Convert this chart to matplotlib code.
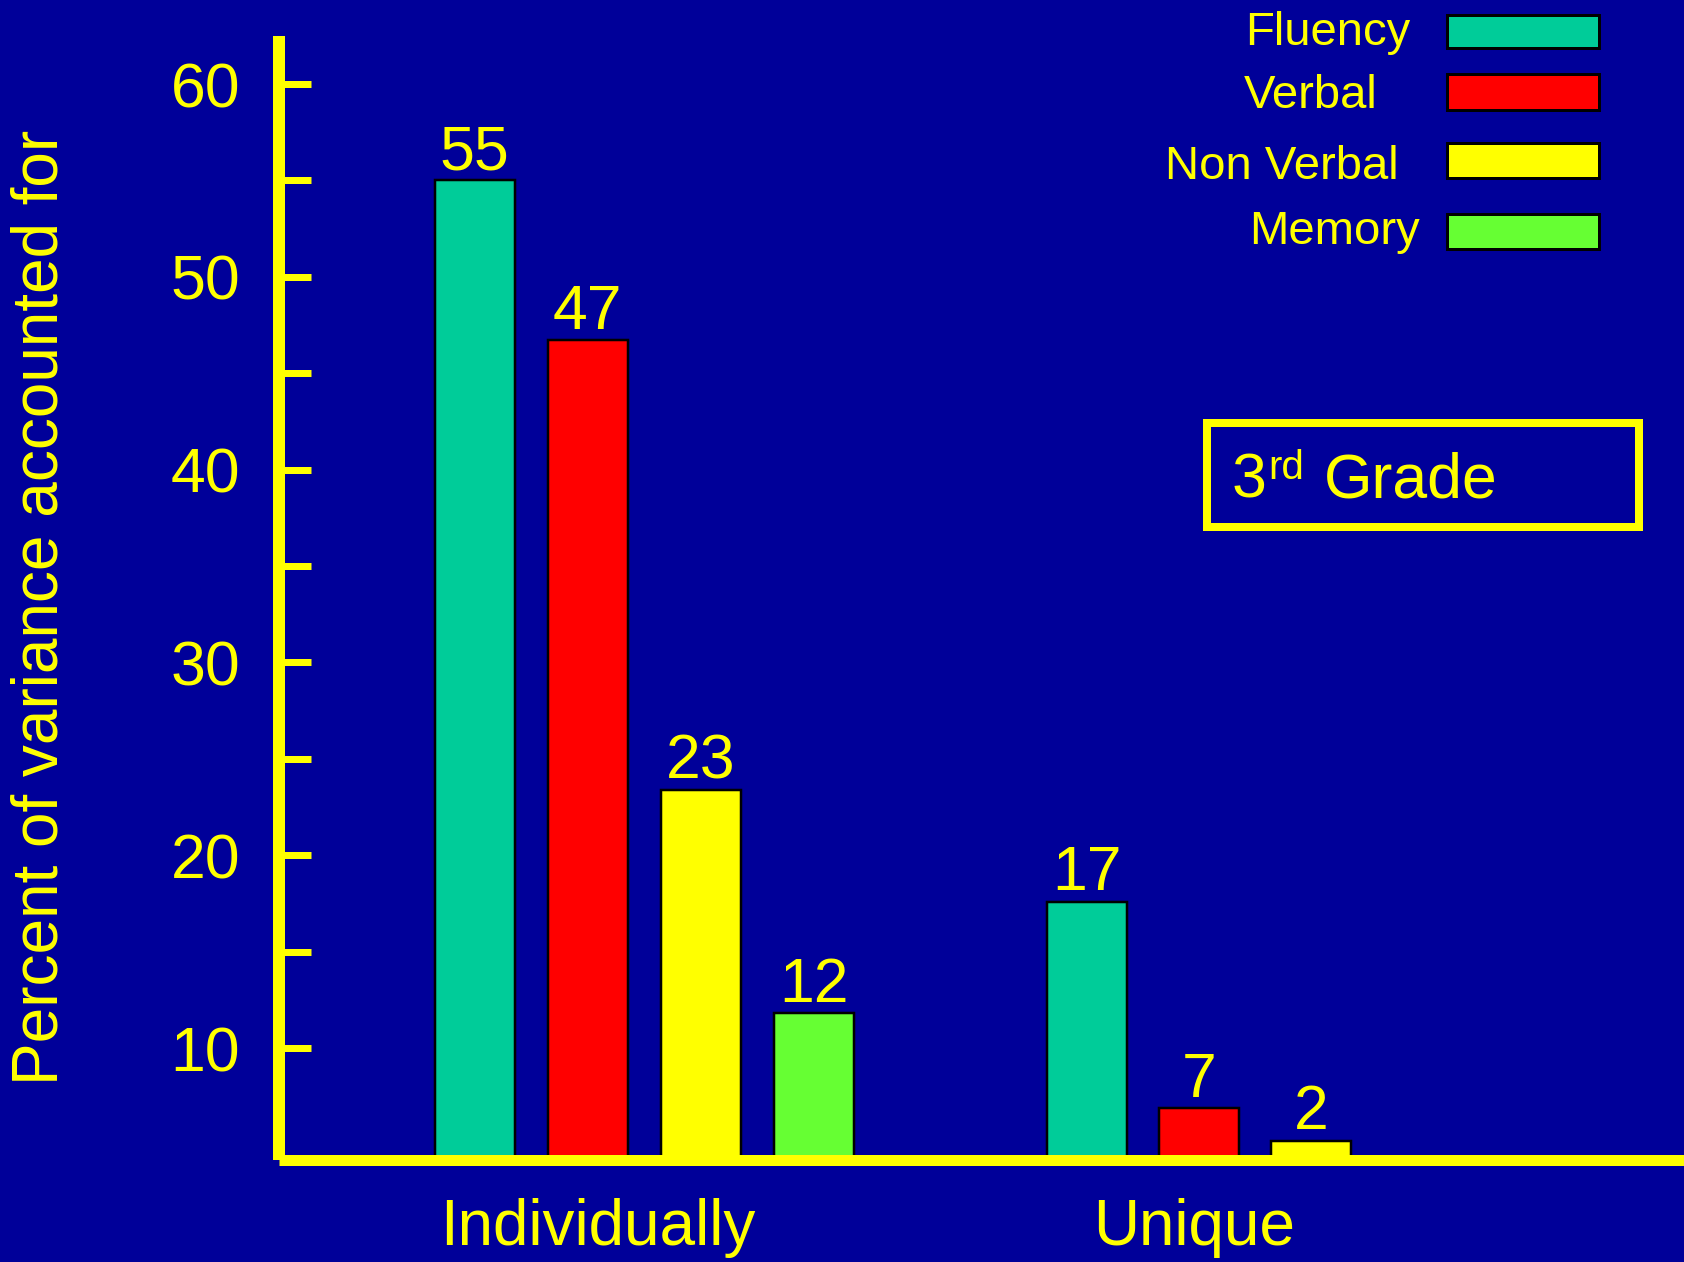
import matplotlib
matplotlib.use("Agg")
import matplotlib.pyplot as plt
from matplotlib.patches import Rectangle

plt.rcParams['font.family'] = ['Liberation Sans', 'DejaVu Sans']

# ---- data ----
categories = ["Individually", "Unique"]
series = ["Fluency", "Verbal", "Non Verbal", "Memory"]
colors = ["#00CC99", "#FF0000", "#FFFF00", "#66FF33"]
individually_tops = [55.0, 46.7, 23.4, 11.8]
unique_tops = [17.6, 6.9, 5.2]
individually_labels = [55, 47, 23, 12]
unique_labels = [17, 7, 2]
y_major = [10, 20, 30, 40, 50, 60]
y_minor = [15, 25, 35, 45, 55]
ylabel = "Percent of variance accounted for"

W, H = 1684, 1262
BG = "#000099"
YEL = "#FFFF00"
PX = 72 / 100  # points per pixel

fig = plt.figure(figsize=(W / 100, H / 100), dpi=100, facecolor=BG)

def fx(px):
    return px / W

def fy(py):
    return 1 - py / H

ax_left, ax_bottom_px, ax_top_px = 279, 1159.5, 36
ax = fig.add_axes([fx(ax_left), fy(ax_bottom_px), 1 - fx(ax_left),
                   (ax_bottom_px - ax_top_px) / H])
ax.set_facecolor(BG)
ax.set_xlim(ax_left, W)
ax.set_ylim(4.22, 62.49)

base = 4.35
group_starts = [474.5, 1087]
spacing = [113, 112]
bar_w = 80
groups = [(individually_tops, individually_labels), (unique_tops, unique_labels)]
for g, (tops, labels) in enumerate(groups):
    for i, (t, lab) in enumerate(zip(tops, labels)):
        x = group_starts[g] + i * spacing[g]
        ax.bar(x, t - base, bottom=base, width=bar_w, color=colors[i],
               edgecolor="black", linewidth=2.5 * PX, zorder=2)
        ax.annotate(str(lab), (x, t), xytext=(0, 8), textcoords="offset points",
                    ha="center", va="baseline", fontsize=45, color=YEL)

# spines
for s in ["top", "right"]:
    ax.spines[s].set_visible(False)
ax.spines["left"].set_color(YEL)
ax.spines["left"].set_linewidth(12 * PX)
ax.spines["bottom"].set_color(YEL)
ax.spines["bottom"].set_linewidth(11 * PX)
for s in ["left", "bottom"]:
    ax.spines[s].set_zorder(3)
    ax.spines[s].set_capstyle("butt")

ax.set_yticks(y_major)
ax.set_yticks(y_minor, minor=True)
ax.tick_params(axis="y", which="both", direction="in", length=32 * PX,
               width=7 * PX, color=YEL, labelcolor=YEL, labelsize=45, pad=28)

label_x = [598, 1194]
ax.set_xticks(label_x)
ax.set_xticklabels(categories)
ax.tick_params(axis="x", length=0, labelcolor=YEL, labelsize=46, pad=28)

fig.text(fx(41), fy(607), ylabel, rotation=90, ha="center", va="center",
         fontsize=46, color=YEL)

# legend
legend_text_x = [1245, 1244, 1165, 1249]
legend_base_y = [45, 108, 179, 244]
legend_box_y = [(15, 48), (74, 110), (143, 178), (214, 249)]
for name, c, tx, by, (y1, y2) in zip(series, colors, legend_text_x,
                                     legend_base_y, legend_box_y):
    fig.text(fx(tx), fy(by), name, ha="left", va="baseline", fontsize=34,
             color=YEL)
    fig.add_artist(Rectangle((fx(1447), fy(y2)), (1599 - 1447) / W,
                             (y2 - y1) / H, transform=fig.transFigure,
                             facecolor=c, edgecolor="black",
                             linewidth=3 * PX))

# 3rd Grade box
fig.add_artist(Rectangle((fx(1207), fy(527)), (1639 - 1207) / W,
                         (527 - 423) / H, transform=fig.transFigure,
                         facecolor="none", edgecolor=YEL, linewidth=8 * PX))
fig.text(fx(1232), fy(498), "3", ha="left", va="baseline", fontsize=45,
         color=YEL)
fig.text(fx(1268), fy(479), "rd", ha="left", va="baseline", fontsize=29,
         color=YEL)
fig.text(fx(1324), fy(498), "Grade", ha="left", va="baseline", fontsize=45,
         color=YEL)

fig.savefig("out.png", dpi=100, facecolor=BG)
